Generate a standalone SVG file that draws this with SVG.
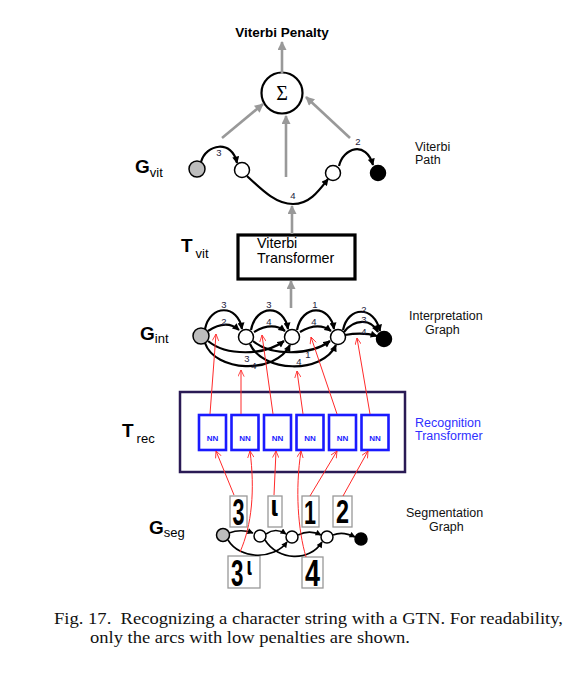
<svg xmlns="http://www.w3.org/2000/svg" width="581" height="678" viewBox="0 0 581 678">
<style>
.sans{font-family:"Liberation Sans",Arial,sans-serif;}
.lbl{font-family:"Liberation Sans",Arial,sans-serif;font-size:12.5px;fill:#111;}
.big{font-family:"Liberation Sans",Arial,sans-serif;font-size:19px;font-weight:bold;fill:#000;}
.sub{font-family:"Liberation Sans",Arial,sans-serif;font-size:13px;fill:#000;}
.num{font-family:"Liberation Sans",Arial,sans-serif;font-size:9.5px;fill:#1c1c3c;text-anchor:middle;}
.arc{fill:none;stroke:#000;stroke-width:2.2;}
.arcs{fill:none;stroke:#000;stroke-width:1.6;}
.gray{fill:none;stroke:#999;stroke-width:2.6;}
.red{fill:none;stroke:#ff2a2a;stroke-width:1;}
.nw{fill:#fff;stroke:#000;stroke-width:1.5;}
.ng{fill:#bdbdbd;stroke:#000;stroke-width:1.5;}
.nb{fill:#000;stroke:#000;stroke-width:1.5;}
.nn{fill:#fff;stroke:#1a1aff;stroke-width:2.6;}
.nnt{font-family:"Liberation Sans",Arial,sans-serif;font-size:8px;font-weight:bold;fill:#1a1aff;text-anchor:middle;}
.img{fill:#fff;stroke:#999;stroke-width:1.3;}
.hw{font-family:"Liberation Sans",Arial,sans-serif;font-weight:bold;fill:#000;}
.hi{font-family:"DejaVu Sans",sans-serif;font-weight:bold;fill:#000;}
</style>
<defs>
<marker id="ab" viewBox="0 0 10 10" refX="9" refY="5" markerUnits="userSpaceOnUse" markerWidth="8" markerHeight="7" orient="auto"><path d="M0,0 L10,5 L0,10 z" fill="#000"/></marker>
<marker id="as" viewBox="0 0 10 10" refX="9" refY="5" markerUnits="userSpaceOnUse" markerWidth="7" markerHeight="6" orient="auto"><path d="M0,0 L10,5 L0,10 z" fill="#000"/></marker>
<marker id="ag" viewBox="0 0 10 10" refX="9" refY="5" markerUnits="userSpaceOnUse" markerWidth="10" markerHeight="9" orient="auto"><path d="M0,0 L10,5 L0,10 z" fill="#999"/></marker>
<marker id="ar" viewBox="0 0 10 10" refX="9.5" refY="5" markerUnits="userSpaceOnUse" markerWidth="8" markerHeight="7" orient="auto"><path d="M0,0.5 L9.5,5 L0,9.5" fill="none" stroke="#ff2a2a" stroke-width="1.2"/></marker>
</defs>

<rect width="581" height="678" fill="#fff"/>

<g id="title"><text x="282" y="37" class="sans" font-size="13.5" font-weight="bold" text-anchor="middle">Viterbi Penalty</text></g>
<g id="label-gvit"><text x="135" y="173" class="big">G<tspan class="sub" dy="3.5" font-weight="normal" font-size="13.5">vit</tspan></text></g>
<g id="label-tvit"><text x="181" y="252" class="big">T<tspan class="sub" dx="3" dy="6" font-weight="normal" font-size="13.5">vit</tspan></text></g>
<g id="label-gint"><text x="140" y="340" class="big">G<tspan class="sub" dy="2.5" font-weight="normal" font-size="13.5">int</tspan></text></g>
<g id="label-trec"><text x="122" y="437" class="big">T<tspan class="sub" dx="3" dy="6" font-weight="normal" font-size="13.5">rec</tspan></text></g>
<g id="label-gseg"><text x="149" y="534" class="big">G<tspan class="sub" dy="3" font-weight="normal" font-size="13.5">seg</tspan></text></g>
<g id="label-vpath"><text x="415" y="151" class="lbl">Viterbi</text><text x="415" y="164" class="lbl">Path</text></g>
<g id="label-igraph"><text x="409" y="320" class="lbl">Interpretation</text><text x="425" y="334" class="lbl">Graph</text></g>
<g id="label-rec"><text x="415" y="427" class="lbl" style="fill:#3030ff">Recognition</text><text x="415" y="440" class="lbl" style="fill:#3030ff">Transformer</text></g>
<g id="label-sgraph"><text x="406" y="517" class="lbl">Segmentation</text><text x="429" y="531" class="lbl">Graph</text></g>

<g id="sum"><circle cx="282" cy="93" r="20.5" fill="#fff" stroke="#000" stroke-width="2.2"/><text x="282" y="100" font-family="Liberation Serif,serif" font-size="20" text-anchor="middle">Σ</text></g>

<g id="tvit"><rect x="238" y="235" width="117" height="44" fill="#fff" stroke="#000" stroke-width="3.2"/>
<text x="257" y="248" class="sans" font-size="14.3">Viterbi</text><text x="257" y="263" class="sans" font-size="14.3">Transformer</text></g>

<g id="trec"><rect x="180" y="392" width="225" height="80" fill="#fff" stroke="#2a1a55" stroke-width="2.5"/></g>
<g id="nn1"><rect x="199" y="415" width="27" height="35" class="nn"/><text x="212.5" y="441" class="nnt">NN</text></g>
<g id="nn2"><rect x="231.5" y="415" width="27" height="35" class="nn"/><text x="245" y="441" class="nnt">NN</text></g>
<g id="nn3"><rect x="264" y="415" width="27" height="35" class="nn"/><text x="277.5" y="441" class="nnt">NN</text></g>
<g id="nn4"><rect x="296.5" y="415" width="27" height="35" class="nn"/><text x="310" y="441" class="nnt">NN</text></g>
<g id="nn5"><rect x="329" y="415" width="27" height="35" class="nn"/><text x="342.5" y="441" class="nnt">NN</text></g>
<g id="nn6"><rect x="361.5" y="415" width="27" height="35" class="nn"/><text x="375" y="441" class="nnt">NN</text></g>

<g id="img3"><rect x="230" y="496" width="17" height="31" class="img"/><text x="232.5" y="525" class="hw" font-size="37" textLength="12" lengthAdjust="spacingAndGlyphs">3</text></g>
<g id="img4a"><rect x="268" y="496" width="14" height="31" class="img"/><text x="270.5" y="516" class="hi" font-size="28" textLength="8" lengthAdjust="spacingAndGlyphs">ι</text></g>
<g id="img1"><rect x="302" y="496" width="17" height="31" class="img"/><text x="304" y="524" class="hw" font-size="34" textLength="12" lengthAdjust="spacingAndGlyphs">1</text></g>
<g id="img2"><rect x="333" y="496" width="19" height="31" class="img"/><text x="336" y="523" class="hw" font-size="34" textLength="13" lengthAdjust="spacingAndGlyphs">2</text></g>
<g id="img34"><rect x="228" y="556" width="32" height="32" class="img"/><text transform="translate(231,586) scale(0.62,1)" class="hw" font-size="36">3<tspan font-family="DejaVu Sans,sans-serif" font-size="24" dx="5" dy="-11">ι</tspan></text></g>
<g id="img4"><rect x="302" y="557" width="21" height="31" class="img"/><text x="305" y="586" class="hw" font-size="36" textLength="15" lengthAdjust="spacingAndGlyphs">4</text></g>

<g id="connectors">
<path class="gray" d="M282,74 L282,42" marker-end="url(#ag)"/>
<path class="gray" d="M222,138 L263,104" marker-end="url(#ag)"/>
<path class="gray" d="M286,177 L286,116" marker-end="url(#ag)"/>
<path class="gray" d="M350,138 L306,97" marker-end="url(#ag)"/>
<path class="gray" d="M292,234 L292,206" marker-end="url(#ag)"/>
<path class="gray" d="M291,308 L291,281" marker-end="url(#ag)"/>

<path class="arc" d="M201,162 C206,144 232,139 237,163" marker-end="url(#ab)"/>
<path class="arc" d="M247,176 C262,190 276,204 293,204 C309,204 318,192 328,179" marker-end="url(#ab)"/>
<path class="arc" d="M339,166 C343,148 366,140 373,165" marker-end="url(#ab)"/>

<path class="arc" d="M205,329 C210,304 238,304 242,329" marker-end="url(#ab)"/>
<path class="arc" d="M208,331 C220,323 230,322 239,330" marker-end="url(#ab)"/>
<path class="arc" d="M251,330 C256,304 284,304 288,329" marker-end="url(#ab)"/>
<path class="arc" d="M254,332 C266,325 277,325 285,331" marker-end="url(#ab)"/>
<path class="arc" d="M297,330 C302,304 330,304 334,329" marker-end="url(#ab)"/>
<path class="arc" d="M300,332 C312,325 323,325 331,331" marker-end="url(#ab)"/>
<path class="arc" d="M343,330 C348,306 374,305 380,331" marker-end="url(#ab)"/>
<path class="arc" d="M344,332 C354,319 371,318 378,332" marker-end="url(#ab)"/>
<path class="arc" d="M345,335 C356,333 367,333 377,336" marker-end="url(#ab)"/>
<path class="arc" d="M208,341 C226,356 264,356 284,341" marker-end="url(#ab)"/>
<path class="arc" d="M205,343 C215,372 275,375 290,345" marker-end="url(#ab)"/>
<path class="arc" d="M253,341 C271,356 310,356 330,341" marker-end="url(#ab)"/>
<path class="arc" d="M250,344 C262,372 322,375 336,345" marker-end="url(#ab)"/>

<path class="arcs" d="M229,533 C237,530 245,530 253,533" marker-end="url(#as)"/>
<path class="arcs" d="M266,534 C273,529 280,530 286,534" marker-end="url(#as)"/>
<path class="arcs" d="M298,535 C306,531 313,531 321,535" marker-end="url(#as)"/>
<path class="arcs" d="M333,535 C340,532 347,533 355,537" marker-end="url(#as)"/>
<path class="arcs" d="M228,540 C240,560 274,560 287,542" marker-end="url(#as)"/>
<path class="arcs" d="M265,540 C278,561 310,562 322,542" marker-end="url(#as)"/>

<path class="red" d="M210,414 L216,334" marker-end="url(#ar)"/>
<path class="red" d="M241,414 L241,370" marker-end="url(#ar)"/>
<path class="red" d="M273,414 L262,335" marker-end="url(#ar)"/>
<path class="red" d="M303,414 L297,371" marker-end="url(#ar)"/>
<path class="red" d="M337,414 L311,337" marker-end="url(#ar)"/>
<path class="red" d="M370,414 L357,338" marker-end="url(#ar)"/>
<path class="red" d="M234,495 L216,451" marker-end="url(#ar)"/>
<path class="red" d="M240,552 C252,525 255,490 250,451" marker-end="url(#ar)"/>
<path class="red" d="M274,495 L276,451" marker-end="url(#ar)"/>
<path class="red" d="M306,557 C298,530 295,490 301,451" marker-end="url(#ar)"/>
<path class="red" d="M310,496 L337,451" marker-end="url(#ar)"/>
<path class="red" d="M343,496 L368,451" marker-end="url(#ar)"/>
</g>

<g id="arc-labels">
<text x="219" y="156" class="num">3</text>
<text x="293" y="199" class="num">4</text>
<text x="358" y="145" class="num">2</text>
<text x="224" y="308" class="num">3</text>
<text x="224" y="325" class="num">2</text>
<text x="269" y="308" class="num">3</text>
<text x="269" y="325" class="num">4</text>
<text x="315" y="308" class="num">1</text>
<text x="314" y="325" class="num">4</text>
<text x="364" y="313" class="num">2</text>
<text x="364" y="323" class="num">3</text>
<text x="364" y="335" class="num">4</text>
<text x="247" y="362" class="num">3</text>
<text x="254" y="369" class="num">4</text>
<text x="308" y="358" class="num">1</text>
<text x="299" y="365" class="num">4</text>
</g>

<g id="gvit-s"><circle cx="197" cy="169" r="8" class="ng"/></g>
<g id="gvit-1"><circle cx="242" cy="170" r="7.5" class="nw"/></g>
<g id="gvit-2"><circle cx="333" cy="173" r="7.5" class="nw"/></g>
<g id="gvit-e"><circle cx="378" cy="173" r="7.5" class="nb"/></g>

<g id="gint-s"><circle cx="201" cy="336" r="8" class="ng"/></g>
<g id="gint-1"><circle cx="246" cy="337" r="7.5" class="nw"/></g>
<g id="gint-2"><circle cx="292" cy="337" r="7.5" class="nw"/></g>
<g id="gint-3"><circle cx="338" cy="337" r="7.5" class="nw"/></g>
<g id="gint-e"><circle cx="384" cy="339" r="7.5" class="nb"/></g>

<g id="gseg-s"><circle cx="223" cy="535" r="6.5" class="ng"/></g>
<g id="gseg-1"><circle cx="260" cy="536" r="6" class="nw"/></g>
<g id="gseg-2"><circle cx="292" cy="537" r="6" class="nw"/></g>
<g id="gseg-3"><circle cx="327" cy="537" r="6" class="nw"/></g>
<g id="gseg-e"><circle cx="361" cy="539" r="6" class="nb"/></g>

<g id="caption" font-family="Liberation Serif,serif" font-size="16" fill="#111">
<text x="54" y="624" textLength="509" lengthAdjust="spacingAndGlyphs">Fig. 17.&#160; Recognizing a character string with a GTN. For readability,</text>
<text x="90" y="643" textLength="320" lengthAdjust="spacingAndGlyphs">only the arcs with low penalties are shown.</text>
</g>
</svg>
